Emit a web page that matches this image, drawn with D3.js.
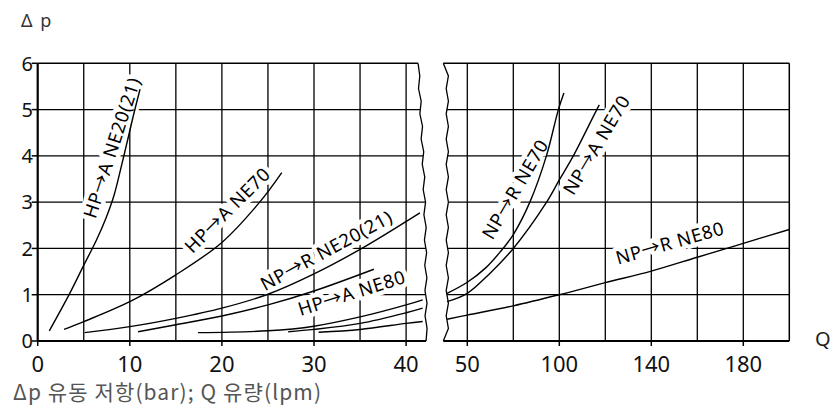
<!DOCTYPE html>
<html><head><meta charset="utf-8">
<script src="https://cdn.jsdelivr.net/npm/d3@7"></script>
<style>
html,body{margin:0;padding:0;background:#fff;}
svg{display:block;}
text{font-family:"Noto Sans","Noto Sans CJK KR",sans-serif;}
</style></head><body>
<svg id="chart" width="838" height="409"></svg>
<script>
// ---------- data ----------
const pTicks = [0, 1, 2, 3, 4, 5, 6];
const qTicksLeft = [0, 10, 20, 30, 40];
const qTicksRight = [50, 100, 140, 180];
const qGridLeft = [0, 5, 10, 15, 20, 25, 30, 35, 40];
const qGridRight = [50, 75, 100, 120, 140, 160, 180, 200];

// left panel (Q 0..42)
const hpA_NE20 = [[1.26,0.22],[3.51,1.04],[5.06,1.66],[6.33,2.16],[7.42,2.66],[8.29,3.15],[9.04,3.74],[9.69,4.28],[10.35,4.84],[11.11,5.44]];
const hpA_NE70 = [[2.86,0.25],[5,0.42],[10,0.85],[15,1.43],[20,2.13],[24.1,3.0],[26.5,3.64]];
const npR_NE20 = [[5.1,0.18],[10,0.31],[15,0.49],[20,0.71],[25,1.01],[30,1.45],[35,1.98],[41.5,2.77]];
const hpA_NE80 = [[10.9,0.2],[15,0.35],[20,0.54],[25,0.78],[30,1.08],[36.5,1.55]];
const lowA = [[17.4,0.18],[25,0.22],[30,0.32],[35,0.52],[40,0.78],[41.8,0.89]];
const lowB = [[27.2,0.2],[30,0.25],[35,0.38],[40,0.61],[41.8,0.71]];
const lowC = [[30.5,0.19],[35,0.25],[40,0.38],[41.8,0.42]];

// right panel (Q 39..200)
const npR_NE70 = [[39,1.03],[50,1.27],[60,1.58],[68,1.93],[75,2.3],[84,3.0],[93,4.0],[99.5,5.0],[102,5.36]];
const npA_NE70 = [[39,0.85],[50,1.03],[62,1.45],[75,2.0],[93.1,3.0],[100,3.48],[106.1,4.0],[116.3,5.0],[117.4,5.1]];
const npR_NE80 = [[39,0.47],[50,0.56],[75,0.76],[100,1.0],[120,1.26],[140,1.51],[160,1.81],[180,2.11],[200,2.41]];

const leftCurves = [hpA_NE20, hpA_NE70, npR_NE20, hpA_NE80, lowA, lowB, lowC];
const rightCurves = [npR_NE70, npA_NE70, npR_NE80];

const labelTexts = ["HP→A NE20(21)", "HP→A NE70", "NP→R NE20(21)", "HP→A NE80", "NP→R NE70", "NP→A NE70", "NP→R NE80"];
const labelPanels = ["L", "L", "L", "L", "R", "R", "R"];
const labelAnchors = [[8.05,4.18],[20.6,2.83],[31.35,1.96],[34.1,1.04],[76.0,3.28],[116.2,4.24],[148.1,2.12]];
const labelAngles = [-72, -45, -28.5, -17.5, -59.6, -59.2, -16];

const yTitle = "Δ p";
const xTitle = "Q";
const caption = "Δp 유동 저항(bar); Q 유량(lpm)";

// ---------- scales ----------
const svg = d3.select("#chart");
const y = d3.scaleLinear().domain([0, 6]).range([341, 63.3]);
const xL = d3.scaleLinear().domain([0, 40]).range([37.7, 406.1]);
const xR = d3.scaleLinear().domain([50, 100, 200]).range([467.3, 559.3, 789.3]);

// break lines (decorative wavy cuts)
const N = 22;
const yTop = y(6), yBot = y(0);
const leftBreak = d3.range(N + 1).map(i => {
  const t = i / N;
  const base = xL(41.3) + 8 * t;
  const w = (i === 0 || i === N) ? 0 : (i % 2 ? 1.0 : -1.0) + 2.5 * Math.sin(t * Math.PI);
  return [base + w, yTop + t * (yBot - yTop)];
});
const rightBreak = d3.range(N + 1).map(i => {
  const t = i / N;
  const w = (i === 0 || i === N) ? 0 : 4 + (i % 2 ? 1.1 : -1.1);
  return [xR(50) - 24 + w, yTop + t * (yBot - yTop)];
});
function breakXAt(pts, yy) {
  for (let i = 0; i < pts.length - 1; i++) {
    const a = pts[i], b = pts[i + 1];
    if (yy >= a[1] && yy <= b[1]) {
      const f = (yy - a[1]) / (b[1] - a[1] || 1);
      return a[0] + f * (b[0] - a[0]);
    }
  }
  return pts[pts.length - 1][0];
}

const g = svg.append("g");
const grid = g.append("g").attr("stroke", "#000").attr("stroke-width", 1.3).attr("fill", "none");

// horizontal gridlines
pTicks.forEach(p => {
  const yy = y(p);
  const sw = (p === 0) ? 2.2 : (p === 6 ? 1.5 : 1.3);
  grid.append("line").attr("x1", xL(0)).attr("x2", breakXAt(leftBreak, yy)).attr("y1", yy).attr("y2", yy).attr("stroke-width", sw);
  grid.append("line").attr("x1", breakXAt(rightBreak, yy)).attr("x2", xR(200)).attr("y1", yy).attr("y2", yy).attr("stroke-width", sw);
});
// vertical gridlines
qGridLeft.forEach(q => {
  grid.append("line").attr("x1", xL(q)).attr("x2", xL(q)).attr("y1", y(6)).attr("y2", y(0))
    .attr("stroke-width", q === 0 ? 2.2 : 1.3);
});
qGridRight.forEach(q => {
  grid.append("line").attr("x1", xR(q)).attr("x2", xR(q)).attr("y1", y(6)).attr("y2", y(0))
    .attr("stroke-width", q === 200 ? 1.5 : 1.3);
});
// tick marks
qTicksLeft.forEach(q => grid.append("line").attr("x1", xL(q)).attr("x2", xL(q)).attr("y1", y(0)).attr("y2", y(0) + 5).attr("stroke-width", 1.5));
qTicksRight.forEach(q => grid.append("line").attr("x1", xR(q)).attr("x2", xR(q)).attr("y1", y(0)).attr("y2", y(0) + 5).attr("stroke-width", 1.5));
pTicks.forEach(p => grid.append("line").attr("x1", xL(0) - 6).attr("x2", xL(0)).attr("y1", y(p)).attr("y2", y(p)).attr("stroke-width", 1.5));

// break lines
const bl = d3.line().curve(d3.curveLinear);
g.append("path").attr("d", bl(leftBreak)).attr("fill", "none").attr("stroke", "#000").attr("stroke-width", 1.3);
g.append("path").attr("d", bl(rightBreak)).attr("fill", "none").attr("stroke", "#000").attr("stroke-width", 1.3);

// label positions
const labelPos = labelTexts.map((t, i) => {
  const sx = labelPanels[i] === "L" ? xL : xR;
  return [sx(labelAnchors[i][0]), y(labelAnchors[i][1])];
});
const LFS = 18.5, LLS = 0.7;

// label halos (break gridlines)
const halo = g.append("g");
labelTexts.forEach((t, i) => {
  halo.append("text").attr("transform", `translate(${labelPos[i][0]},${labelPos[i][1]}) rotate(${labelAngles[i]})`)
    .attr("text-anchor", "middle").attr("dy", "0.36em").attr("font-size", LFS).attr("letter-spacing", LLS)
    .attr("fill", "#fff").attr("stroke", "#fff").attr("stroke-width", 9).attr("stroke-linejoin", "round")
    .text(t);
});

// curves
const lineL = d3.line().x(d => xL(d[0])).y(d => y(d[1])).curve(d3.curveCatmullRom.alpha(0.5));
const lineR = d3.line().x(d => xR(d[0])).y(d => y(d[1])).curve(d3.curveCatmullRom.alpha(0.5));
const cg = g.append("g").attr("fill", "none").attr("stroke", "#000").attr("stroke-width", 1.4);
leftCurves.forEach(c => cg.append("path").attr("d", lineL(c)));
rightCurves.forEach(c => cg.append("path").attr("d", lineR(c)));

// label text
labelTexts.forEach((t, i) => {
  g.append("text").attr("transform", `translate(${labelPos[i][0]},${labelPos[i][1]}) rotate(${labelAngles[i]})`)
    .attr("text-anchor", "middle").attr("dy", "0.36em").attr("font-size", LFS).attr("letter-spacing", LLS)
    .attr("fill", "#000").text(t);
});

// axis labels
pTicks.forEach(p => g.append("text").attr("x", 33).attr("y", y(p)).attr("dy", "0.36em")
  .attr("text-anchor", "end").attr("font-size", 20).attr("fill", "#111").text(p));
qTicksLeft.forEach(q => g.append("text").attr("x", xL(q)).attr("y", 371.7)
  .attr("text-anchor", "middle").attr("font-size", 22).attr("fill", "#111").text(q));
qTicksRight.forEach(q => g.append("text").attr("x", xR(q)).attr("y", 371.7)
  .attr("text-anchor", "middle").attr("font-size", 22).attr("fill", "#111").text(q));

g.append("text").attr("x", 21).attr("y", 27).attr("font-size", 18).attr("word-spacing", 3).attr("fill", "#333").text(yTitle);
g.append("text").attr("x", 815).attr("y", 346).attr("font-size", 20).attr("fill", "#222").text(xTitle);
g.append("text").attr("x", 13).attr("y", 400).attr("font-size", 21).attr("fill", "#555")
  .style("font-family", "'Noto Sans CJK KR','Noto Sans',sans-serif")
  .attr("textLength", 308).attr("lengthAdjust", "spacing").text(caption);
</script>
</body></html>
